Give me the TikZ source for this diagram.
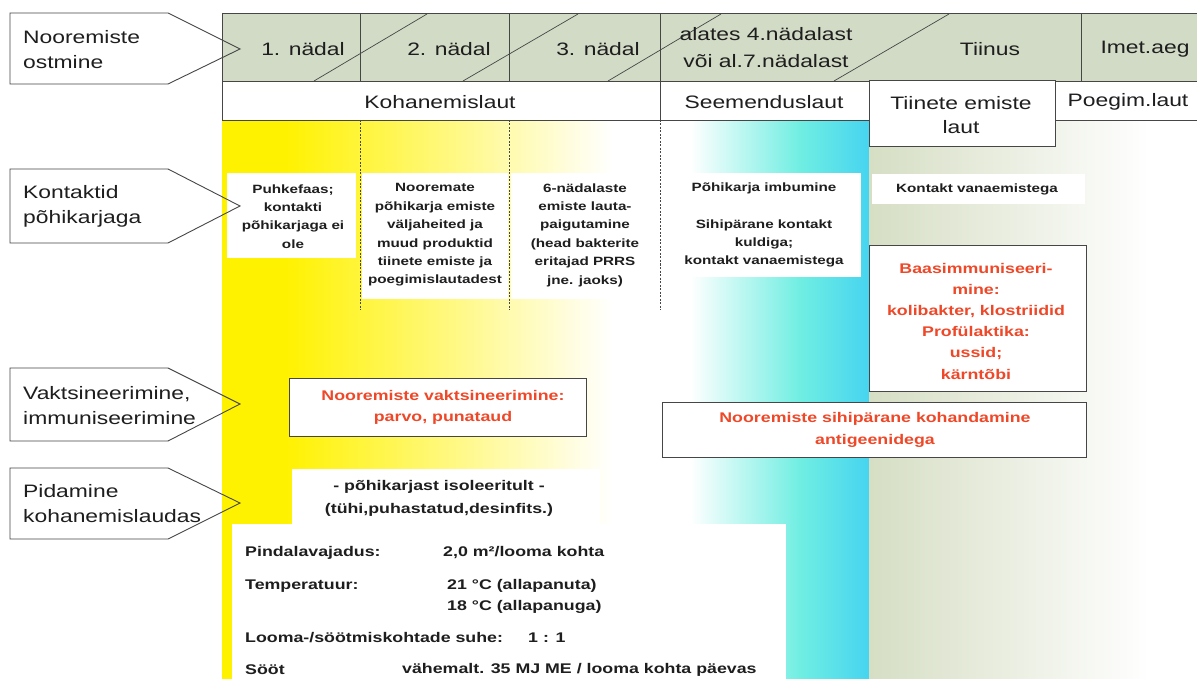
\documentclass[tikz,border=0pt]{standalone}
\usepackage{fontspec}
\setmainfont{Liberation Sans}[FakeStretch=1.27]
\definecolor{txt}{RGB}{30,30,30}
\definecolor{lncol}{RGB}{70,70,70}
\definecolor{hdrfill}{RGB}{210,219,197}
\definecolor{yel}{RGB}{255,242,0}
\definecolor{cyM}{RGB}{198,234,235}
\definecolor{cyA}{RGB}{112,238,226}
\definecolor{cyB}{RGB}{70,212,240}
\definecolor{grn}{RGB}{214,222,196}
\definecolor{grnM}{RGB}{236,240,221}
\definecolor{redtxt}{RGB}{238,72,40}
\begin{document}
\begin{tikzpicture}[x=1pt,y=-1pt,
  ln/.style={draw=lncol, line width=0.9pt},
  slash/.style={draw=lncol, line width=0.7pt},
  vdash/.style={draw=lncol, line width=0.6pt, dash pattern=on 2pt off 1.5pt},
  hdr/.style={font=\fontsize{18}{27}\selectfont, text=txt, inner sep=0pt, align=center},
  lbl/.style={font=\fontsize{18}{24.5}\selectfont, text=txt, inner sep=0pt, align=left, anchor=west},
  small/.style={font=\bfseries\fontsize{12}{18.4}\selectfont, text=txt, inner sep=0pt, align=center},
  redt/.style={font=\bfseries\fontsize{14}{21.5}\selectfont, text=redtxt, inner sep=0pt, align=center},
  info/.style={font=\bfseries\fontsize{14}{20}\selectfont, text=txt, inner sep=0pt, anchor=west},
  rbox/.style={fill=white, draw=lncol, line width=1pt},
  sig/.style={draw=lncol, line width=0.9pt, line join=miter},
]
\useasboundingbox (0,0) rectangle (1197,679);
\fill[white] (0,0) rectangle (1197,679);

% ---- background zones
\fill[yel] (222,120) rectangle (286,679);
\shade[left color=yel, right color=white] (285.5,120) rectangle (612,679);
\shade[left color=white, middle color=cyM, right color=cyA] (690,120) rectangle (800,679);
\shade[left color=cyA, right color=cyB] (799.5,120) rectangle (869,679);
\shade[left color=grn, middle color=grnM, right color=white] (869,120) rectangle (1150,679);

% ---- header band
\fill[hdrfill] (222,13) rectangle (1197,81);
\fill[white] (222,81) rectangle (1197,120);
\draw[ln] (222,13) -- (1197,13);
\draw[ln] (222,81) -- (1197,81);
\draw[ln] (222,13) -- (222,120);
\foreach \x in {360,509,660,1081} \draw[ln] (\x,13) -- (\x,81);
\draw[slash] (314,81) -- (427,14);
\draw[slash] (463,81) -- (578,14);
\draw[slash] (608,81) -- (721,14);
\draw[slash] (834,81) -- (949,14);

% ---- second row
\draw[ln] (222,120) -- (869,120);
\draw[ln] (660,81) -- (660,120);
\draw[ln] (1055,120) -- (1197,120);
\draw[rbox] (869,81) rectangle (1055,147);
\draw[vdash] (360,120) -- (360,310);
\draw[vdash] (509,120) -- (509,310);
\draw[vdash] (660,120) -- (660,310);

% ---- white text fields of the contact row
\fill[white] (227,173) rectangle (356,258);
\fill[white] (362,173) rectangle (508,299);
\fill[white] (511,173) rectangle (658,299);
\fill[white] (672,173) rectangle (861,277);
\fill[white] (872,174) rectangle (1085,204);

% ---- bordered boxes
\draw[rbox] (869,246) rectangle (1086,391);
\draw[rbox] (289,378) rectangle (586,436);
\draw[rbox] (662,402) rectangle (1086,457);

% ---- bottom fields
\fill[white] (292,469) rectangle (600,525);
\fill[white] (232,524) rectangle (786,679);

% ---- left signal labels
\draw[sig] (10,13) -- (168,13) -- (240,49) -- (168,84) -- (10,84) -- cycle;
\draw[sig] (10,169) -- (168,169) -- (240,206) -- (168,243) -- (10,243) -- cycle;
\draw[sig] (10,368) -- (168,368) -- (240,404) -- (168,441) -- (10,441) -- cycle;
\draw[sig] (10,468) -- (168,468) -- (240,503) -- (168,539) -- (10,539) -- cycle;
\node[lbl] (l1) at (23,49.5) {Nooremiste\\ostmine};
\node[lbl] (l2) at (23,206.5) {Kontaktid\\põhikarjaga};
\node[lbl] (l3) at (23,405.5) {Vaktsineerimine,\\immuniseerimine};
\node[lbl] (l4) at (23,503.5) {Pidamine\\kohanemislaudas};

% ---- header texts
\node[hdr] (w1) at (303,49) {1. nädal};
\node[hdr] (w2) at (449,49) {2. nädal};
\node[hdr] (w3) at (598,49) {3. nädal};
\node[hdr] (w4) at (766,48) {alates 4.nädalast\\või al.7.nädalast};
\node[hdr] (w5) at (990,49) {Tiinus};
\node[hdr] (w6) at (1145,49) {Imet.aeg};
\node[hdr] (k1) at (440,102) {Kohanemislaut};
\node[hdr] (k2) at (764,102) {Seemenduslaut};
\node[hdr, font=\fontsize{18}{24}\selectfont] (k3) at (961,115) {Tiinete emiste\\laut};
\node[hdr] (k4) at (1128,102) {Poegim.laut};

% ---- contact texts
\node[small] (a1) at (293,216.5) {Puhkefaas;\\kontakti\\põhikarjaga ei\\ole};
\node[small] (b1) at (435,235) {Nooremate\\põhikarja emiste\\väljaheited ja\\muud produktid\\tiinete emiste ja\\poegimislautadest};
\node[small] (c1) at (585,235) {6-nädalaste\\emiste lauta-\\paigutamine\\(head bakterite\\eritajad PRRS\\jne. jaoks)};
\node[small] (d1) at (764,225) {Põhikarja imbumine\\[18.4pt]Sihipärane kontakt\\kuldiga;\\kontakt vanaemistega};
\node[small] (e1) at (977,189) {Kontakt vanaemistega};

% ---- red texts
\node[redt, font=\bfseries\fontsize{14}{21.2}\selectfont] (r1) at (976,321) {Baasimmuniseeri-\\mine:\\kolibakter, klostriidid\\Profülaktika:\\ussid;\\kärntõbi};
\node[redt] (r2) at (443,407.5) {Nooremiste vaktsineerimine:\\parvo, punataud};
\node[redt, font=\bfseries\fontsize{14}{22}\selectfont] (r3) at (875,430) {Nooremiste sihipärane kohandamine\\antigeenidega};

% ---- housing texts
\node[hdr, font=\bfseries\fontsize{14}{23}\selectfont] (p1) at (439,498.5) {- põhikarjast isoleeritult -\\(tühi,puhastatud,desinfits.)};
\node[info] (q1) at (245,553) {Pindalavajadus:};
\node[info] (q2) at (443,553) {2,0 m²/looma kohta};
\node[info] (q3) at (245,586) {Temperatuur:};
\node[info] (q4) at (447,586) {21 °C (allapanuta)};
\node[info] (q5) at (447,607) {18 °C (allapanuga)};
\node[info] (q6) at (245,638) {Looma-/söötmiskohtade suhe:};
\node[info] (q7) at (528,638) {1 : 1};
\node[info] (q8) at (245,670) {Sööt};
\node[info] (q9) at (402,670) {vähemalt. 35 MJ ME / looma kohta päevas};
\end{tikzpicture}
\end{document}
